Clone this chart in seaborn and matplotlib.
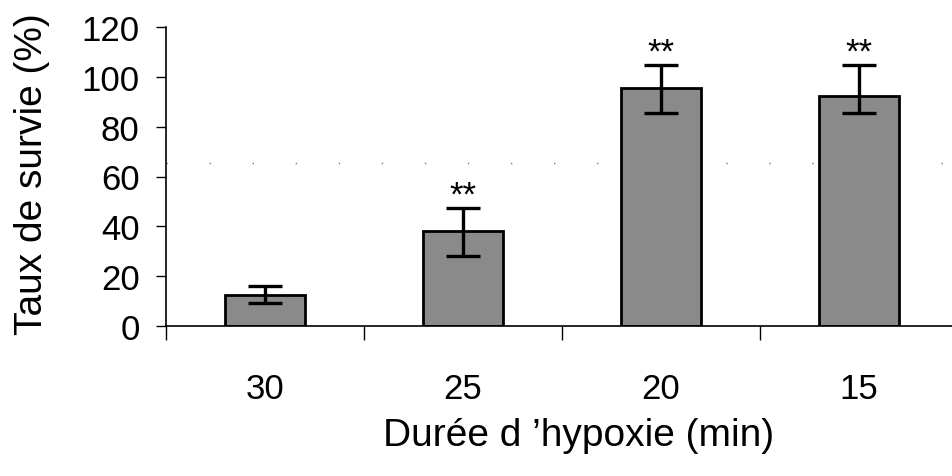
import pandas as pd
import matplotlib
matplotlib.use('Agg')
import matplotlib.pyplot as plt
import seaborn as sns

# Data
durations = ['30', '25', '20', '15']
survival = [12.4, 38.1, 95.6, 92.4]
err_low = [3.2, 10.0, 10.1, 6.9]
err_high = [3.6, 9.3, 9.2, 12.4]
signif = ['', '**', '**', '**']

df = pd.DataFrame({'duree': durations, 'survie': survival})

sns.set_style('white')
plt.rcParams['font.family'] = ['Liberation Sans', 'DejaVu Sans']
plt.rcParams.update({'text.color': 'black', 'axes.labelcolor': 'black',
                     'xtick.color': 'black', 'ytick.color': 'black'})

fig = plt.figure(figsize=(9.53, 4.77), dpi=100)
W, H = 953, 477
ax = fig.add_axes([166 / W, (H - 327) / H, 792 / W, 299 / H])

sns.barplot(data=df, x='duree', y='survie', order=durations, width=0.4,
            color='#8a8a8a', saturation=1, edgecolor='black', linewidth=2,
            errorbar=None, ax=ax, zorder=2)

# error bars
xpos = list(range(len(durations)))
ax.errorbar(xpos, survival, yerr=[err_low, err_high], fmt='none', ecolor='black',
            elinewidth=2.4, capsize=12.5, capthick=2.4, zorder=3)

# significance stars
for x, v, hi, s in zip(xpos, survival, err_high, signif):
    if s:
        ax.text(x, v + hi + 1.5, s, ha='center', va='baseline', fontsize=25)

# faint scan dotted line
ax.axhline(65.5, color='#777777', lw=1, linestyle=(0, (1, 30)), zorder=0)

ax.set_xlim(-0.5, 3.5)
ax.set_ylim(0, 120)
ax.set_yticks([0, 20, 40, 60, 80, 100, 120])
ax.tick_params(axis='y', which='major', direction='out', length=7, width=1,
               left=True, labelsize=25, pad=12)

# category labels on minor ticks, boundary tick marks on major ticks
ax.set_xticks([-0.5, 0.5, 1.5, 2.5, 3.5])
ax.set_xticklabels([])
ax.set_xticks(xpos, minor=True)
ax.set_xticklabels(durations, minor=True)
ax.tick_params(axis='x', which='major', direction='out', length=10, width=1, bottom=True)
ax.tick_params(axis='x', which='minor', length=0, labelsize=25, pad=33)

for side in ['top', 'right']:
    ax.spines[side].set_visible(False)
for side in ['left', 'bottom']:
    ax.spines[side].set_color('black')
    ax.spines[side].set_linewidth(1.2)

ax.set_ylabel('Taux de survie (%)', fontsize=28)
ax.yaxis.set_label_coords(-0.146, 0.51)
ax.set_xlabel('Durée d \u2019hypoxie (min)', fontsize=28)
ax.xaxis.set_label_coords(0.521, -0.305)

fig.savefig('out.png', dpi=100)
